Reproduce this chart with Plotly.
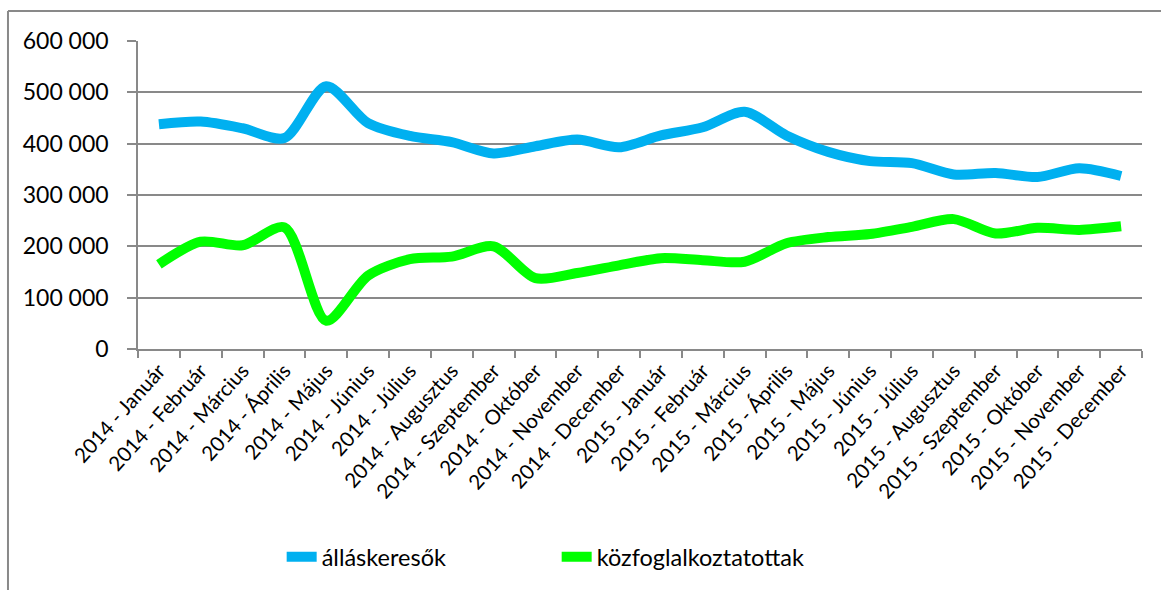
import plotly.graph_objects as go

months = ["Január", "Február", "Március", "Április", "Május", "Június", "Július",
          "Augusztus", "Szeptember", "Október", "November", "December"]
categories = [f"{y} - {m}" for y in (2014, 2015) for m in months]

allaskeresok = [438000, 443000, 430000, 411000, 512000, 440000, 415000, 403000,
                381000, 395000, 408000, 393000, 416000, 432000, 462000, 416000,
                384000, 366000, 362000, 340000, 343000, 335000, 352000, 337000]
kozfoglalkoztatottak = [165000, 209000, 202000, 237000, 55000, 143000, 175000, 180000,
                        200000, 138000, 148000, 163000, 177000, 173000, 170000, 206000,
                        218000, 224000, 238000, 253000, 225000, 236000, 232000, 239000]

y_ticks = [0, 100000, 200000, 300000, 400000, 500000, 600000]
y_labels = ["0", "100 000", "200 000", "300 000", "400 000", "500 000", "600 000"]

FONT = "Lato, 'Open Sans', sans-serif"
GRID = "#898989"

fig = go.Figure()
fig.add_trace(go.Scatter(x=categories, y=allaskeresok, name="álláskeresők",
                         mode="lines", line=dict(color="#00B0F0", width=10, shape="spline", smoothing=0.8)))
fig.add_trace(go.Scatter(x=categories, y=kozfoglalkoztatottak, name="közfoglalkoztatottak",
                         mode="lines", line=dict(color="#00FF00", width=10, shape="spline", smoothing=0.8)))

fig.update_layout(
    width=1161, height=590,
    margin=dict(l=138, r=19, t=41, b=241, autoexpand=False),
    paper_bgcolor="white", plot_bgcolor="white",
    font=dict(family=FONT, color="black"),
    showlegend=True,
    legend=dict(orientation="h", x=0.417, xanchor="center", y=-0.675, yanchor="middle",
                font=dict(size=23.5, family=FONT), entrywidth=230, tracegroupgap=0),
    xaxis=dict(type="category", tickangle=-48, tickson="boundaries", ticks="outside",
               ticklen=7, tickcolor=GRID, tickwidth=1.5, showline=True, linecolor=GRID,
               linewidth=1.5, showgrid=False, tickfont=dict(size=20.5, family=FONT),
               range=[-0.5, 23.5], automargin=False),
    yaxis=dict(range=[0, 600000], tickvals=y_ticks, ticktext=y_labels, ticks="outside",
               ticklen=9, tickcolor=GRID, tickwidth=1.5, showline=True, linecolor=GRID,
               linewidth=1.5, showgrid=True, gridcolor=GRID, gridwidth=1.5,
               tickfont=dict(size=23, family=FONT), zeroline=False, automargin=False,
               ticklabelstandoff=14),
    shapes=[
        dict(type="line", xref="paper", yref="paper", x0=-0.1295, x1=1.2, y0=1.097, y1=1.097,
             line=dict(color=GRID, width=2), layer="above"),
        dict(type="line", xref="paper", yref="paper", x0=-0.1295, x1=-0.1295, y0=1.097, y1=-0.9,
             line=dict(color=GRID, width=2), layer="above"),
    ],
)

fig.write_html("out.html", config={"displayModeBar": False},
               post_script="document.body.style.margin='0';document.body.style.overflow='hidden';")
